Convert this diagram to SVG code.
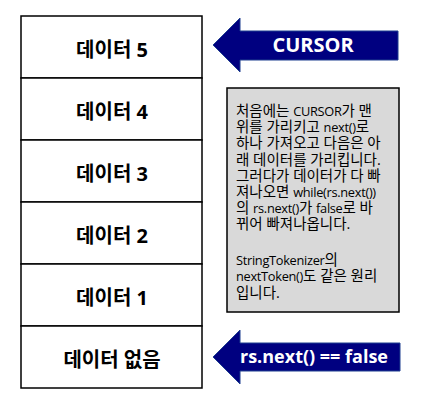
<svg xmlns="http://www.w3.org/2000/svg" width="423" height="415" viewBox="0 0 423 415">
<style>
.row{fill:#fff;stroke:#000;stroke-width:1.5}
.lbl{font-family:"Open Sans","Noto Sans CJK KR",sans-serif;font-weight:bold;font-size:20px;fill:#000;text-anchor:middle}
.arr{fill:#000080;stroke:#1f3f8f;stroke-width:1}
.atxt{font-family:"Open Sans","Noto Sans CJK KR",sans-serif;font-weight:bold;fill:#fff}
.note{fill:#d9d9d9;stroke:#000;stroke-width:1.5}
.ntxt{font-family:"Open Sans","Noto Sans CJK KR",sans-serif;font-size:14.5px;fill:#000}
.L{font-size:12.8px;letter-spacing:-0.3px}
</style>
<rect width="423" height="415" fill="#fff"/>
<g id="row5"><rect class="row" x="21" y="16" width="181" height="62"/><text class="lbl" x="112" y="57">데이터 5</text></g>
<g id="row4"><rect class="row" x="21" y="78" width="181" height="62"/><text class="lbl" x="112" y="119">데이터 4</text></g>
<g id="row3"><rect class="row" x="21" y="140" width="181" height="62"/><text class="lbl" x="112" y="181">데이터 3</text></g>
<g id="row2"><rect class="row" x="21" y="202" width="181" height="62"/><text class="lbl" x="112" y="243">데이터 2</text></g>
<g id="row1"><rect class="row" x="21" y="264" width="181" height="62"/><text class="lbl" x="112" y="305">데이터 1</text></g>
<g id="row0"><rect class="row" x="21" y="326" width="181" height="62"/><text class="lbl" x="112" y="367">데이터 없음</text></g>
<g id="cursor">
<polygon class="arr" points="213,45 240,18 240,31 398,31 398,60 240,60 240,72"/>
<text class="atxt" x="313" y="52" font-size="20" text-anchor="middle">CURSOR</text>
</g>
<g id="falseArrow">
<polygon class="arr" points="213,357 240,330 240,343 400,343 400,371 240,371 240,384"/>
<text class="atxt" x="314" y="363" font-size="18" text-anchor="middle">rs.next() == false</text>
</g>
<g id="note">
<rect class="note" x="227" y="88" width="172" height="224"/>
<text class="ntxt" x="236" y="116">처음에는 <tspan class="L">CURSOR</tspan>가 맨</text>
<text class="ntxt" x="236" y="132.2">위를 가리키고 <tspan class="L">next()</tspan>로</text>
<text class="ntxt" x="236" y="148.4">하나 가져오고 다음은 아</text>
<text class="ntxt" x="236" y="164.6">래 데이터를 가리킵니다.</text>
<text class="ntxt" x="236" y="180.8">그러다가 데이터가 다 빠</text>
<text class="ntxt" x="236" y="197">져나오면 <tspan class="L">while(rs.next())</tspan></text>
<text class="ntxt" x="236" y="213.2">의 <tspan class="L">rs.next()</tspan>가 <tspan class="L">false</tspan>로 바</text>
<text class="ntxt" x="236" y="229.4">뀌어 빠져나옵니다.</text>
<text class="ntxt" x="236" y="265"><tspan class="L">StringTokenizer</tspan>의</text>
<text class="ntxt" x="236" y="281.3"><tspan class="L">nextToken()</tspan>도 같은 원리</text>
<text class="ntxt" x="236" y="297.6">입니다.</text>
</g>
<g id="connectors"></g>
</svg>
